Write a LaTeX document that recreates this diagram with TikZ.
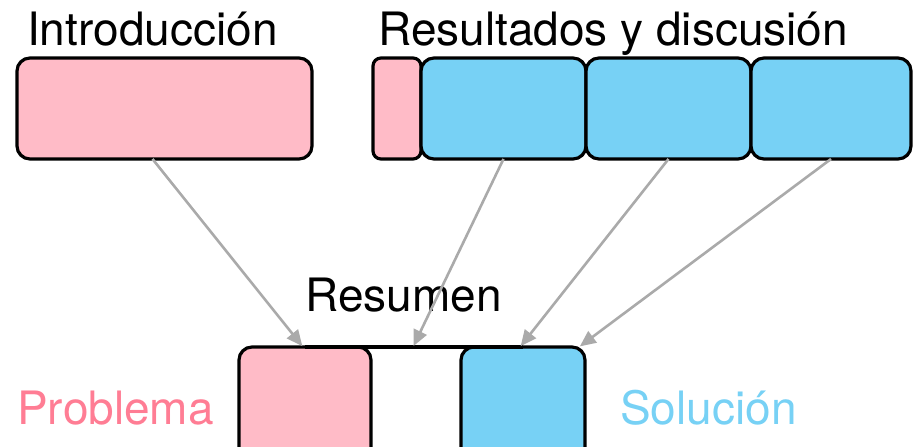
\documentclass[tikz,border=0pt]{standalone}
\usepackage{fontspec}
\setmainfont{TeX Gyre Heros}
\usetikzlibrary{positioning, arrows.meta}
\definecolor{boxPink}{RGB}{255,187,199}
\definecolor{boxBlue}{RGB}{119,209,245}
\definecolor{textPink}{RGB}{255,125,148}
\definecolor{arrowGray}{RGB}{170,170,170}

\begin{document}
\begin{tikzpicture}[
    x=1pt, y=-1pt,
    font=\fontsize{46}{50}\selectfont,
    b/.style={draw=black, line width=3.2pt, rounded corners=13pt, inner sep=0pt, outer sep=0pt,
              minimum height=101pt},
    a/.style={-{Triangle[length=16pt, width=14pt]}, line width=2.6pt, arrowGray, shorten >=1pt},
    lbl/.style={inner sep=0pt, anchor=base west},
  ]
    \useasboundingbox (0,0) rectangle (913,447);
    % upper row
    \node[b, fill=boxPink, minimum width=295pt, anchor=north west] (intro) at (17,58) {};
    \node[b, fill=boxPink, minimum width=48pt, rounded corners=8pt, anchor=north west] (disc) at (373,58) {};
    \node[b, fill=boxBlue, minimum width=165pt, right=0pt of disc] (resA) {};
    \node[b, fill=boxBlue, minimum width=165pt, right=0pt of resA] (resB) {};
    \node[b, fill=boxBlue, minimum width=160pt, right=0pt of resB] (resC) {};
    \node[lbl] (tIntro) at (27,45) {Introducción};
    \node[lbl] (tRes) at (378,45) {Resultados y discusión};
    % lower row
    \node[b, fill=boxPink, minimum width=132pt, minimum height=130pt, anchor=north west] (prob) at (239,347) {};
    \node[b, fill=boxBlue, minimum width=124pt, minimum height=130pt, anchor=north west] (sol) at (461,347) {};
    \draw[line width=3.2pt] (prob.north) -- (sol.north);
    \path (prob.north east) -- (sol.north west) coordinate[midway] (mid);
    \node[lbl] (tResumen) at (305,311) {Resumen};
    \node[lbl, textPink] (tProb) at (17,424) {Problema};
    \node[lbl, boxBlue] (tSol) at (620,424) {Solución};
    % arrows
    \draw[a] ([xshift=-12pt]intro.south) -- ([xshift=-2pt]prob.north);
    \draw[a] (resA.south) -- ([xshift=-3pt]mid);
    \draw[a] (resB.south) -- ([xshift=-3pt]sol.north);
    \draw[a] (resC.south) -- ([xshift=-6pt]sol.north east);
  \end{tikzpicture}
\end{document}
